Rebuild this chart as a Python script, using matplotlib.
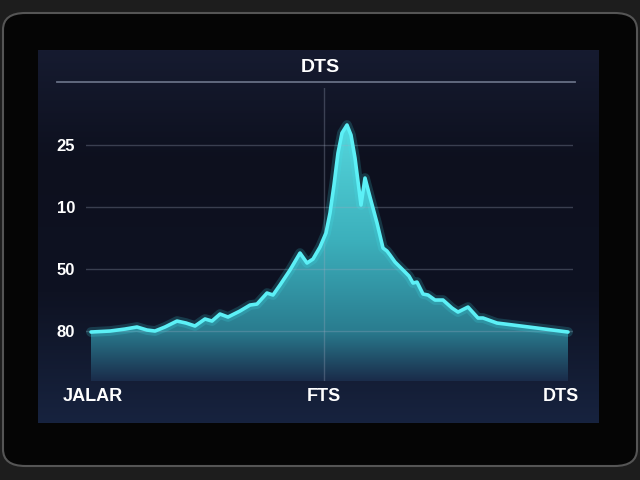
import numpy as np
import matplotlib
matplotlib.use("Agg")
import matplotlib.pyplot as plt
from matplotlib.patches import FancyBboxPatch, Polygon
from matplotlib.lines import Line2D
from matplotlib.colors import LinearSegmentedColormap

# ---------------- data ----------------
x_pos = [0, 19, 34, 46, 56, 64, 74, 86, 95, 104, 114, 121, 129, 137, 149, 159,
         166, 176, 182, 189, 199, 209, 216, 222, 229, 235, 239, 243, 247, 251,
         256, 260, 264, 270, 274, 279, 286, 292, 296, 299, 304, 307, 314, 318,
         322, 326, 332, 337, 344, 352, 361, 367, 377, 387, 392, 406, 422, 446, 477]
values = [-0.16, 0.0, 0.32, 0.65, 0.16, 0.0, 0.65, 1.61, 1.29, 0.81, 1.94, 1.61,
          2.74, 2.26, 3.23, 4.19, 4.35, 6.13, 5.81, 7.42, 9.84, 12.58, 10.97,
          11.61, 13.55, 15.81, 19.03, 23.55, 28.71, 31.94, 33.23, 31.61, 27.90,
          20.32, 24.68, 21.61, 17.42, 13.39, 12.90, 12.26, 11.13, 10.65, 9.52,
          8.87, 7.74, 7.90, 5.97, 5.81, 5.00, 5.00, 3.71, 3.06, 3.87, 2.10, 2.10,
          1.29, 0.97, 0.48, -0.16]
y_ticks = [0, 10, 20, 30]
y_tick_labels = ["80", "50", "10", "25"]
x_ticks = [2, 233, 470]
x_tick_labels = ["JALAR", "FTS", "DTS"]
title = "DTS"
y_floor = -8.06
marker_x = 233

plt.rcParams["font.family"] = ["Liberation Sans", "DejaVu Sans"]

W, H = 640, 480
fig = plt.figure(figsize=(6.4, 4.8), dpi=100, facecolor="#1d1d1d")


def fx(px):
    return px / W


def fy(py):
    return 1 - py / H


# device bezel
screen = FancyBboxPatch((fx(3), fy(466)), fx(634), (466 - 13) / H,
                        boxstyle="round,pad=0,rounding_size=0.035",
                        transform=fig.transFigure, facecolor="#050505",
                        edgecolor="#555555", lw=1.5, zorder=-10)
fig.patches.append(screen)

# panel background with vertical gradient
bg = fig.add_axes([fx(38), fy(423), fx(599 - 38), (423 - 50) / H], zorder=1)
bg_cmap = LinearSegmentedColormap.from_list(
    "bg", [(0, "#17233f"), (0.35, "#0e1222"), (0.7, "#0d101e"), (1, "#161b30")])
grad = np.linspace(0, 1, 256).reshape(-1, 1)
bg.imshow(grad, extent=[0, 1, 0, 1], aspect="auto", origin="lower", cmap=bg_cmap)
bg.set_axis_off()

# main axes
ax = fig.add_axes([fx(86), fy(381), fx(573 - 86), (381 - 88) / H], zorder=2)
ax.set_facecolor("none")
ax.set_xlim(-5, 482)
ax.set_ylim(y_floor, 39.2)

xs = np.array(x_pos, dtype=float)
ys = np.array(values, dtype=float)

# gradient fill under the curve
fill_cmap = LinearSegmentedColormap.from_list(
    "fill", [(0, "#1a2c4a"), (0.2, "#2a7d90"), (0.55, "#3cb0bc"), (1, "#55d6dc")])
gimg = np.linspace(0, 1, 256).reshape(-1, 1)
im = ax.imshow(gimg, extent=[xs[0], xs[-1], y_floor, ys.max()], aspect="auto",
               origin="lower", cmap=fill_cmap, zorder=1)
poly_pts = np.vstack([[xs[0], y_floor], np.column_stack([xs, ys]), [xs[-1], y_floor]])
clip = Polygon(poly_pts, closed=True, transform=ax.transData, facecolor="none",
               edgecolor="none")
ax.add_patch(clip)
im.set_clip_path(clip)
ax.set_xlim(-5, 482)
ax.set_ylim(y_floor, 39.2)

# grid lines
for yt in y_ticks:
    ax.axhline(yt, color="#a0aac0", alpha=0.3, lw=1, zorder=3)
ax.axvline(marker_x, color="#a0aac0", alpha=0.3, lw=1, zorder=3)

# line with glow
ax.plot(xs, ys, color="#40e8f0", lw=7, alpha=0.18, solid_joinstyle="round",
        solid_capstyle="round", zorder=4)
ax.plot(xs, ys, color="#5cf0f6", lw=2.6, solid_joinstyle="round",
        solid_capstyle="round", zorder=5)

ax.set_yticks(y_ticks)
ax.set_yticklabels(y_tick_labels, fontsize=12, fontweight="bold", color="white")
ax.set_xticks(x_ticks)
ax.set_xticklabels(x_tick_labels, fontsize=13, fontweight="bold", color="white")
ax.tick_params(axis="y", length=0, pad=8)
ax.tick_params(axis="x", length=0, pad=5)
for s in ax.spines.values():
    s.set_visible(False)

# header separator line and title
fig.add_artist(Line2D([fx(57), fx(575)], [fy(82), fy(82)], transform=fig.transFigure,
                      color="#8a94aa", alpha=0.7, lw=1.3, zorder=5))
fig.text(fx(320), fy(67), title, ha="center", va="center", fontsize=14,
         fontweight="bold", color="white", zorder=5)

fig.savefig("out.png", dpi=100, facecolor=fig.get_facecolor())
